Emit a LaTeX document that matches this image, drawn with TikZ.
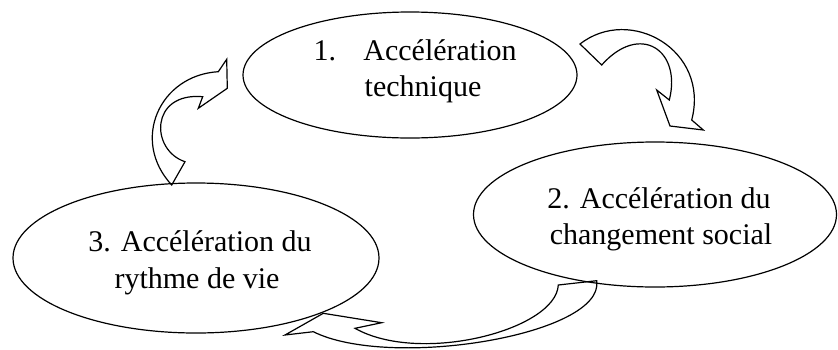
\documentclass[tikz,border=0pt]{standalone}
\usepackage{fontspec}
\setmainfont{Liberation Serif}
\usetikzlibrary{shapes.geometric}
\begin{document}
\begin{tikzpicture}[x=1pt,y=-1pt,line width=1.2pt,
  bub/.style={draw,ellipse,inner sep=0pt},
  txt/.style={inner sep=0pt,anchor=base,font=\fontsize{30}{36}\selectfont},
  carrow/.style={draw,line join=miter}]
\useasboundingbox (0,0) rectangle (838,349);
\node[bub,minimum width=334pt,minimum height=126pt] (e1) at (410,75) {};
\node[bub,minimum width=363pt,minimum height=145pt] (e2) at (655,214.5) {};
\node[bub,minimum width=366pt,minimum height=150pt] (e3) at (196,258) {};
% texts
\node[txt,anchor=base west] (t1n) at (313,60) {1.};
\node[txt] (t1a) at (440,60) {Acc\'el\'eration};
\node[txt] (t1b) at (423,96.7) {technique};
\node[txt] (t2a) at (659,208.3) {2. Acc\'el\'eration du};
\node[txt] (t2b) at (661,244.3) {changement social};
\node[txt] (t3a) at (200,251) {3. Acc\'el\'eration du};
\node[txt] (t3b) at (197,288.3) {rythme de vie};
% arrow from 3 to 1
\path[carrow] (171.7,185) .. controls (130,140) and (160,75) .. (218.3,71.7)
  -- (226.7,59.3) -- (227.3,88.3) -- (198.3,108.3) -- (202.7,96.7)
  .. controls (150,92) and (150,150) .. (185,161.7) -- cycle;
% arrow from 1 to 2
\path[carrow] (580,44) .. controls (630,5) and (710,50) .. (691.7,120)
  -- (703.3,130) -- (670,126) -- (656.7,90) -- (669.3,100)
  .. controls (682,50) and (640,22) .. (601.7,65) -- cycle;
% arrow from 2 to 3
\path[carrow] (558.3,285) .. controls (556,330) and (420,365) .. (355,328.3)
  -- (381.7,322.7) -- (323.3,313.3) -- (285,335) -- (313.3,331.7)
  .. controls (390,370) and (605,335) .. (596.7,280.7) -- cycle;
\end{tikzpicture}
\end{document}
